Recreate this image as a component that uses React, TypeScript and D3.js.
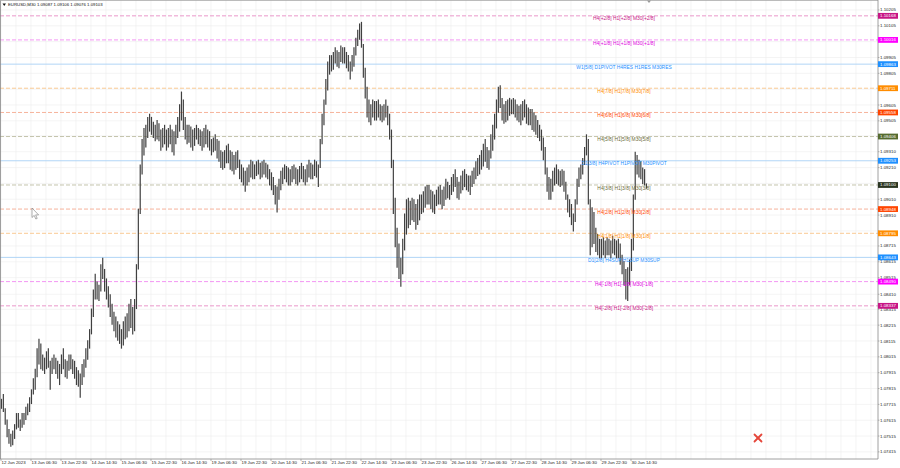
import React from "react";
import * as d3 from "d3";

const headerText = "EURUSD,M30  1.09087 1.09106 1.09076 1.09103";

const timeLabels = [
  "12 Jun 2023", "13 Jun 06:30", "13 Jun 22:30", "14 Jun 14:30", "15 Jun 06:30", "15 Jun 22:30",
  "16 Jun 14:30", "19 Jun 06:30", "19 Jun 22:30", "20 Jun 14:30", "21 Jun 06:30", "21 Jun 22:30",
  "22 Jun 14:30", "23 Jun 06:30", "23 Jun 22:30", "26 Jun 14:30", "27 Jun 06:30", "27 Jun 22:30",
  "28 Jun 14:30", "29 Jun 06:30", "29 Jun 22:30", "30 Jun 14:30",
];

const priceTicks = [
  "1.10205", "1.10105", "1.10005", "1.09905", "1.09805", "1.09705", "1.09605", "1.09505", "1.09410",
  "1.09310", "1.09210", "1.09110", "1.09010", "1.08910", "1.08810", "1.08715", "1.08615", "1.08515",
  "1.08410", "1.08315", "1.08215", "1.08115", "1.08015", "1.07915", "1.07815", "1.07715", "1.07615",
  "1.07515", "1.07415",
];

// H1 bars (two M30 slots each), highs and lows
const barHigh = [
  1.0775,1.0778,1.0769,1.0762,1.0756,1.0753,1.0755,1.0759,1.0766,1.0766,1.0762,1.0766,1.0766,1.0770,1.0772,1.0776,
  1.0781,1.0788,1.0794,1.0807,1.0813,1.0810,1.0803,1.0801,1.0805,1.0807,1.0799,1.0801,1.0803,1.0801,1.0799,1.0797,
  1.0803,1.0807,1.0800,1.0799,1.0803,1.0803,1.0800,1.0799,1.0795,1.0793,1.0791,1.0797,1.0800,1.0807,1.0812,1.0819,
  1.0832,1.0844,1.0854,1.0849,1.0847,1.0860,1.0864,1.0857,1.0851,1.0846,1.0841,1.0835,1.0830,1.0827,1.0824,1.0822,
  1.0819,1.0824,1.0827,1.0829,1.0835,1.0838,1.0833,1.0838,1.0860,1.0895,1.0923,1.0939,1.0946,1.0948,1.0953,1.0955,
  1.0953,1.0950,1.0948,1.0951,1.0949,1.0945,1.0946,1.0948,1.0945,1.0946,1.0948,1.0945,1.0944,1.0948,1.0953,1.0961,
  1.0969,1.0964,1.0953,1.0948,1.0948,1.0947,1.0945,1.0946,1.0948,1.0946,1.0945,1.0944,1.0946,1.0948,1.0945,1.0944,
  1.0939,1.0940,1.0942,1.0939,1.0938,1.0932,1.0931,1.0932,1.0935,1.0936,1.0932,1.0931,1.0929,1.0931,1.0932,1.0926,
  1.0923,1.0921,1.0919,1.0921,1.0923,1.0926,1.0925,1.0923,1.0925,1.0926,1.0924,1.0925,1.0926,1.0924,1.0923,1.0920,
  1.0918,1.0915,1.0910,1.0909,1.0914,1.0919,1.0921,1.0923,1.0922,1.0921,1.0920,1.0922,1.0923,1.0921,1.0920,1.0922,
  1.0924,1.0922,1.0920,1.0923,1.0926,1.0924,1.0923,1.0926,1.0925,1.0923,1.0939,1.0955,1.0964,1.0977,1.0988,1.0992,
  1.0992,1.0994,1.0997,1.0995,1.0994,1.0998,1.0997,1.0997,1.0994,1.0992,1.0988,1.0992,1.0997,1.1003,1.1008,1.1012,
  1.1013,1.0999,1.0984,1.0972,1.0964,1.0961,1.0964,1.0963,1.0963,1.0964,1.0961,1.0960,1.0961,1.0964,1.0960,1.0955,
  1.0945,1.0926,1.0902,1.0883,1.0873,1.0864,1.0876,1.0892,1.0901,1.0902,1.0900,1.0902,1.0901,1.0898,1.0901,1.0904,
  1.0904,1.0906,1.0909,1.0910,1.0910,1.0907,1.0906,1.0904,1.0907,1.0909,1.0910,1.0907,1.0909,1.0914,1.0912,1.0910,
  1.0915,1.0917,1.0920,1.0915,1.0912,1.0916,1.0919,1.0920,1.0917,1.0916,1.0916,1.0919,1.0921,1.0925,1.0927,1.0929,
  1.0932,1.0936,1.0939,1.0934,1.0932,1.0942,1.0948,1.0955,1.0964,1.0972,1.0973,1.0965,1.0961,1.0963,1.0964,1.0965,
  1.0964,1.0965,1.0964,1.0961,1.0960,1.0961,1.0963,1.0964,1.0961,1.0959,1.0958,1.0958,1.0956,1.0954,1.0951,1.0948,
  1.0945,1.0940,1.0934,1.0921,1.0915,1.0914,1.0919,1.0921,1.0923,1.0920,1.0919,1.0920,1.0919,1.0912,1.0904,1.0901,
  1.0898,1.0892,1.0901,1.0914,1.0921,1.0923,1.0927,1.0934,1.0942,1.0939,1.0901,1.0896,1.0893,1.0883,1.0879,1.0876,
  1.0876,1.0877,1.0875,1.0877,1.0876,1.0875,1.0878,1.0876,1.0875,1.0876,1.0873,1.0866,1.0862,1.0857,1.0858,1.0863,
  1.0876,1.0904,1.0931,1.0929,1.0926,1.0925,1.0921,1.0920,1.0911,
];

const barLow = [
  1.0769,1.0767,1.0759,1.0751,1.0747,1.0745,1.0746,1.0750,1.0756,1.0757,1.0755,1.0757,1.0759,1.0762,1.0765,1.0767,
  1.0772,1.0778,1.0781,1.0789,1.0797,1.0794,1.0793,1.0791,1.0794,1.0795,1.0781,1.0791,1.0794,1.0791,1.0788,1.0784,
  1.0791,1.0794,1.0789,1.0788,1.0793,1.0794,1.0791,1.0788,1.0784,1.0783,1.0776,1.0784,1.0789,1.0795,1.0800,1.0807,
  1.0816,1.0827,1.0838,1.0838,1.0837,1.0843,1.0851,1.0843,1.0838,1.0833,1.0827,1.0822,1.0818,1.0814,1.0812,1.0810,
  1.0807,1.0809,1.0813,1.0814,1.0818,1.0820,1.0816,1.0818,1.0832,1.0857,1.0892,1.0917,1.0929,1.0934,1.0940,1.0944,
  1.0942,1.0940,1.0938,1.0939,1.0938,1.0932,1.0934,1.0936,1.0932,1.0934,1.0936,1.0931,1.0929,1.0936,1.0940,1.0944,
  1.0951,1.0945,1.0939,1.0936,1.0937,1.0934,1.0932,1.0935,1.0939,1.0936,1.0935,1.0932,1.0934,1.0936,1.0934,1.0932,
  1.0929,1.0931,1.0932,1.0927,1.0925,1.0921,1.0920,1.0921,1.0924,1.0924,1.0920,1.0919,1.0917,1.0920,1.0921,1.0914,
  1.0912,1.0910,1.0906,1.0910,1.0912,1.0915,1.0914,1.0914,1.0916,1.0917,1.0914,1.0915,1.0917,1.0915,1.0914,1.0910,
  1.0907,1.0904,1.0898,1.0893,1.0901,1.0907,1.0911,1.0914,1.0912,1.0910,1.0910,1.0912,1.0914,1.0911,1.0910,1.0912,
  1.0914,1.0912,1.0910,1.0912,1.0915,1.0914,1.0914,1.0916,1.0915,1.0909,1.0921,1.0936,1.0948,1.0961,1.0970,1.0980,
  1.0982,1.0983,1.0987,1.0985,1.0984,1.0988,1.0987,1.0987,1.0984,1.0982,1.0977,1.0982,1.0985,1.0992,1.0998,1.1002,
  1.0997,1.0978,1.0965,1.0953,1.0950,1.0948,1.0953,1.0951,1.0951,1.0953,1.0951,1.0950,1.0951,1.0953,1.0948,1.0939,
  1.0921,1.0892,1.0871,1.0858,1.0851,1.0846,1.0854,1.0869,1.0879,1.0883,1.0885,1.0888,1.0887,1.0882,1.0885,1.0888,
  1.0892,1.0893,1.0896,1.0898,1.0898,1.0895,1.0893,1.0892,1.0897,1.0898,1.0898,1.0895,1.0897,1.0901,1.0902,1.0901,
  1.0904,1.0906,1.0909,1.0902,1.0901,1.0905,1.0907,1.0909,1.0907,1.0906,1.0904,1.0909,1.0911,1.0914,1.0916,1.0917,
  1.0920,1.0922,1.0925,1.0921,1.0920,1.0927,1.0932,1.0939,1.0946,1.0956,1.0959,1.0951,1.0949,1.0950,1.0951,1.0954,
  1.0955,1.0955,1.0953,1.0951,1.0950,1.0948,1.0951,1.0953,1.0949,1.0948,1.0948,1.0945,1.0944,1.0942,1.0940,1.0938,
  1.0932,1.0926,1.0917,1.0906,1.0901,1.0901,1.0906,1.0910,1.0911,1.0910,1.0909,1.0910,1.0906,1.0901,1.0893,1.0890,
  1.0885,1.0881,1.0887,1.0898,1.0909,1.0914,1.0917,1.0923,1.0929,1.0898,1.0866,1.0871,1.0873,1.0868,1.0866,1.0864,
  1.0864,1.0866,1.0864,1.0866,1.0866,1.0864,1.0867,1.0866,1.0864,1.0864,1.0860,1.0854,1.0847,1.0838,1.0837,1.0847,
  1.0856,1.0869,1.0901,1.0917,1.0915,1.0914,1.0911,1.0910,1.0908,
];

const levelPrices = [1.10168, 1.10016, 1.09863, 1.09711, 1.09558, 1.09406, 1.09253, 1.091, 1.08948, 1.08795, 1.08643, 1.0849, 1.08337];
const levelNames = [
  "H4[+2/8] H1[+2/8] M30[+2/8]",
  "H4[+1/8] H1[+1/8] M30[+1/8]",
  "W1[5/8] D1PIVOT H4RES H1RES M30RES",
  "H4[7/8] H1[7/8] M30[7/8]",
  "H4[6/8] H1[6/8] M30[6/8]",
  "H4[5/8] H1[5/8] M30[5/8]",
  "D1[3/8] H4PIVOT H1PIVOT M30PIVOT",
  "H4[3/8] H1[3/8] M30[3/8]",
  "H4[2/8] H1[2/8] M30[2/8]",
  "H4[1/8] H1[1/8] M30[1/8]",
  "D1[2/8] H4SUP H1SUP M30SUP",
  "H4[-1/8] H1[-1/8] M30[-1/8]",
  "H4[-2/8] H1[-2/8] M30[-2/8]",
];
const levelLineColors = ["#E88CC4", "#F28AF2", "#A8D0F5", "#F8C488", "#F5AA90", "#BDBDA4", "#A8D0F5", "#BDBDA4", "#F5AA90", "#F8C488", "#A8D0F5", "#F28AF2", "#E88CC4"];
const levelTextColors = ["#C71585", "#E000E0", "#1E90FF", "#FF8C00", "#FF4500", "#6B6B3A", "#1E90FF", "#6B6B3A", "#FF4500", "#FF8C00", "#1E90FF", "#E000E0", "#C71585"];
const levelBoxColors = ["#C71585", "#FF00FF", "#1E90FF", "#FF8C00", "#FF4500", "#556B2F", "#1E90FF", "#2A3520", "#FF4500", "#FF8C00", "#1E90FF", "#FF00FF", "#C71585"];
const levelDashed = [true, true, false, true, true, true, false, true, true, true, false, true, true];

const W = 900;
const H = 468;
const PLOT_R = 878;
const PLOT_B = 459;
const SLOTS_PER_LABEL = 32;

export default function App() {
  const x = d3.scaleLinear().domain([0, 936]).range([1, 878.5]);
  const y = d3.scaleLinear().domain([1.0737, 1.10268]).range([PLOT_B, 0]);
  const font = "'Liberation Sans', Arial, sans-serif";
  const gridSlots = d3.range(0, 936, 16);
  // tick labels hidden under a level price box (as in the terminal)
  const visibleTicks = priceTicks.filter(
    (t) => !levelPrices.some((p) => Math.abs(y(p) - y(+t)) < 3)
  );

  return (
    <svg width={W} height={H} style={{ position: "absolute", left: 0, top: 0, background: "#fff" }}>
      <rect x={0} y={0} width={W} height={H} fill="#fff" />
      {/* grid */}
      <g stroke="#ececec" strokeWidth={0.6}>
        {gridSlots.map((s) => (
          <line key={"gv" + s} x1={x(s)} x2={x(s)} y1={0} y2={PLOT_B} />
        ))}
        {priceTicks.map((t) => (
          <line key={"gh" + t} x1={0} x2={PLOT_R} y1={y(+t)} y2={y(+t)} />
        ))}
      </g>
      {/* level lines */}
      {levelPrices.map((p, i) => (
        <line
          key={"lv" + i}
          x1={0}
          x2={PLOT_R}
          y1={y(p)}
          y2={y(p)}
          stroke={levelLineColors[i]}
          strokeWidth={0.9}
          strokeDasharray={levelDashed[i] ? "4 2" : undefined}
        />
      ))}
      {/* bars */}
      <g stroke="#404040" strokeWidth={1.2}>
        {barHigh.map((h, j) => (
          <line key={"b" + j} x1={x(2 * j + 0.5)} x2={x(2 * j + 0.5)} y1={y(h)} y2={y(barLow[j]) + 0.5} />
        ))}
      </g>
      {/* level texts */}
      {levelPrices.map((p, i) => (
        <text
          key={"lt" + i}
          x={624}
          y={y(p) + 4.6}
          textAnchor="middle"
          fontFamily={font}
          fontSize={4.9}
          fill={levelTextColors[i]}
        >
          {levelNames[i]}
        </text>
      ))}
      {/* frame */}
      <line x1={0.5} x2={0.5} y1={0} y2={PLOT_B} stroke="#888" strokeWidth={0.8} />
      <line x1={0} x2={PLOT_R} y1={0.5} y2={0.5} stroke="#aaa" strokeWidth={0.8} />
      <line x1={PLOT_R} x2={PLOT_R} y1={0} y2={PLOT_B} stroke="#888" strokeWidth={0.8} />
      <line x1={0} x2={PLOT_R} y1={PLOT_B} y2={PLOT_B} stroke="#888" strokeWidth={0.8} />
      {/* price axis */}
      {priceTicks.map((t) => (
        <line key={"ptk" + t} x1={PLOT_R} x2={PLOT_R + 1.5} y1={y(+t)} y2={y(+t)} stroke="#888" strokeWidth={0.6} />
      ))}
      {visibleTicks.map((t) => (
        <text key={"pt" + t} x={880} y={y(+t) + 1.5} fontFamily={font} fontSize={4.4} fill="#222">
          {t}
        </text>
      ))}
      {levelPrices.map((p, i) => (
        <g key={"lb" + i}>
          <rect x={PLOT_R} y={y(p) - 2.9} width={20} height={5.8} fill={levelBoxColors[i]} />
          <text x={880} y={y(p) + 1.5} fontFamily={font} fontSize={4.4} fill="#fff">
            {p.toFixed(5)}
          </text>
        </g>
      ))}
      {/* time axis */}
      {timeLabels.map((t, k) => (
        <g key={"tl" + t}>
          <line x1={x(k * SLOTS_PER_LABEL)} x2={x(k * SLOTS_PER_LABEL)} y1={PLOT_B} y2={PLOT_B + 2} stroke="#888" strokeWidth={0.6} />
          <text x={x(k * SLOTS_PER_LABEL) + 0.5} y={464.3} fontFamily={font} fontSize={4.4} fill="#222">
            {t}
          </text>
        </g>
      ))}
      {/* header */}
      <path d="M2.5,3.5 L6,3.5 L4.25,6 Z" fill="#111" />
      <text x={8} y={6.3} fontFamily={font} fontSize={4.3} fill="#111">
        {headerText}
      </text>
      {/* chart shift marker */}
      <path d="M647,0.5 L651,0.5 L649,3 Z" fill="#999" />
      {/* mouse pointer */}
      <path d="M32,208 L32,217.5 L34.2,215.4 L35.8,219 L37.2,218.4 L35.6,214.9 L38.6,214.9 Z" fill="#fff" stroke="#777" strokeWidth={0.6} />
      {/* red cross */}
      <g stroke="#E5463A" strokeWidth={1.8} strokeLinecap="round">
        <line x1={754.5} y1={434.5} x2={761.5} y2={441.5} />
        <line x1={761.5} y1={434.5} x2={754.5} y2={441.5} />
      </g>
    </svg>
  );
}
